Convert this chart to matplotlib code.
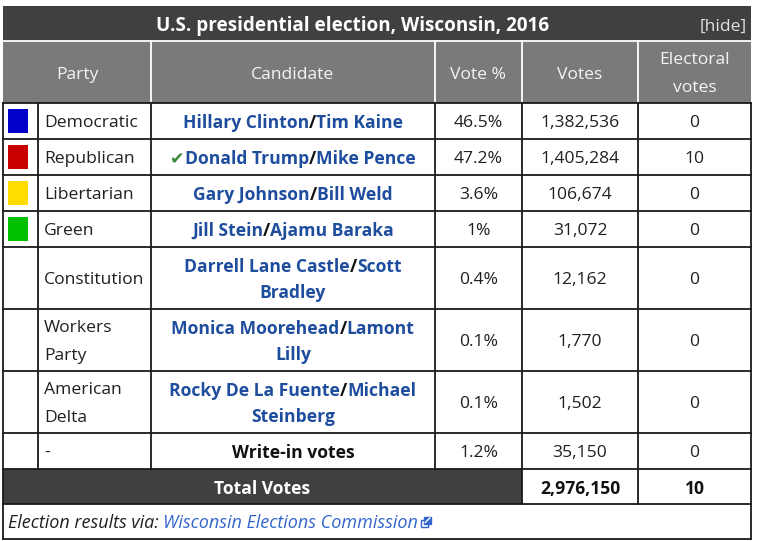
import matplotlib
matplotlib.use("Agg")
import matplotlib.pyplot as plt
from matplotlib.patches import Rectangle

# ---------------- data ----------------
title = "U.S. presidential election, Wisconsin, 2016"
headers = ["Party", "Candidate", "Vote %", "Votes", "Electoral\nvotes"]
parties = ["Democratic", "Republican", "Libertarian", "Green", "Constitution",
           "Workers Party", "American Delta", "-"]
party_colors = ["#0000c8", "#c80000", "#ffdd00", "#00c000", None, None, None, None]
presidents = ["Hillary Clinton", "Donald Trump", "Gary Johnson", "Jill Stein",
              "Darrell Lane Castle", "Monica Moorehead", "Rocky De La Fuente",
              "Write-in votes"]
running_mates = ["Tim Kaine", "Mike Pence", "Bill Weld", "Ajamu Baraka",
                 "Scott Bradley", "Lamont Lilly", "Michael Steinberg", None]
vote_pct = ["46.5%", "47.2%", "3.6%", "1%", "0.4%", "0.1%", "0.1%", "1.2%"]
votes = [1382536, 1405284, 106674, 31072, 12162, 1770, 1502, 35150]
electoral_votes = [0, 10, 0, 0, 0, 0, 0, 0]
winner = "Donald Trump"
total_label = "Total Votes"
total_votes = 2976150
total_electoral = 10
source_prefix = "Election results via: "
source_name = "Wisconsin Elections Commission"

# ---------------- layout ----------------
W, H = 757, 541
col_x = [3, 38, 151, 435, 522, 638, 751]
title_top, title_bot = 6, 41
head_bot = 103
row_heights = [36, 36, 36, 36, 62, 62, 62, 36]
total_h = 35
foot_h = 35
FS = 12.6
DY = 2.0  # baseline correction for vertical centering

DARK = "#404040"
HEAD = "#7a7a7a"
LINK = "#1e4d9e"
BORDER = "#1a1a1a"
TXT = "#202020"

plt.rcParams['font.family'] = ['Open Sans', 'DejaVu Sans']

fig = plt.figure(figsize=(W / 100, H / 100), dpi=100)
ax = fig.add_axes([0, 0, 1, 1])
ax.set_xlim(0, W)
ax.set_ylim(H, 0)
ax.axis('off')
renderer = fig.canvas.get_renderer()


def txt(x, y, s, **kw):
    opts = dict(fontsize=FS, color=TXT, ha='center', va='center')
    opts.update(kw)
    return ax.text(x, y + DY, s, **opts)


def segments(x, y, segs, ha='center'):
    texts, widths = [], []
    for s, color, props in segs:
        kw = dict(fontsize=FS)
        kw.update(props)
        t = ax.text(0, y + DY, s, color=color, va='center', ha='left', **kw)
        w = t.get_window_extent(renderer).width
        texts.append(t)
        widths.append(w)
    total = sum(widths)
    x0 = x - total / 2 if ha == 'center' else x
    for t, w in zip(texts, widths):
        t.set_x(x0)
        x0 += w
    return texts


def hline(y, x0, x1, color=BORDER, lw=1.3):
    ax.plot([x0, x1], [y, y], color=color, lw=lw, solid_capstyle='projecting')


def vline(x, y0, y1, color=BORDER, lw=1.3):
    ax.plot([x, x], [y0, y1], color=color, lw=lw, solid_capstyle='projecting')


# title bar
ax.add_patch(Rectangle((col_x[0], title_top), col_x[-1] - col_x[0], title_bot - title_top,
                       facecolor=DARK, edgecolor='none'))
txt(353, (title_top + title_bot) / 2 + 1, title, color='white', fontsize=13.6,
    fontweight='bold')
txt(col_x[-1] - 4, (title_top + title_bot) / 2 + 1, "[hide]", color='#e0e0e0', ha='right')

# header
ax.add_patch(Rectangle((col_x[0], title_bot), col_x[-1] - col_x[0], head_bot - title_bot,
                       facecolor=HEAD, edgecolor='none'))
hy = (title_bot + head_bot) / 2
head_centers = [(col_x[0] + col_x[2]) / 2] + [(col_x[i] + col_x[i + 1]) / 2 for i in range(2, 6)]
for hx, htxt in zip(head_centers, headers):
    lines = htxt.split("\n")
    if len(lines) == 1:
        txt(hx, hy + 1, htxt, color='#f4f4f4')
    else:
        txt(hx, hy - 13.5, lines[0], color='#f4f4f4')
        txt(hx, hy + 13.5, lines[1], color='#f4f4f4')
for x in col_x[2:-1]:
    vline(x, title_bot, head_bot, color='white', lw=1.3)
hline(title_bot, col_x[0], col_x[-1], color='white', lw=1.3)

# body rows
y = head_bot
row_bounds = []
for h in row_heights:
    row_bounds.append((y, y + h))
    y += h
body_bot = y

for i, (y0, y1) in enumerate(row_bounds):
    yc = (y0 + y1) / 2
    two = (y1 - y0) > 50
    # color square
    if party_colors[i]:
        ax.add_patch(Rectangle((8, y0 + 6), 20, 24, facecolor=party_colors[i], edgecolor='none'))
    # party text
    ptxt = parties[i]
    if two and ' ' in ptxt:
        a, b = ptxt.split(' ', 1)
        txt(44, yc - 13.5, a, ha='left')
        txt(44, yc + 13.5, b, ha='left')
    else:
        txt(44, yc, ptxt, ha='left')
    # candidate
    cx = (col_x[2] + col_x[3]) / 2
    bold = dict(fontweight='bold')
    if running_mates[i] is None:
        segments(cx, yc, [(presidents[i], '#111111', bold)])
    elif two:
        first, last = running_mates[i].rsplit(' ', 1)
        segments(cx, yc - 13.5, [(presidents[i], LINK, bold), ("/", '#111111', bold),
                                 (first, LINK, bold)])
        segments(cx, yc + 13.5, [(last, LINK, bold)])
    else:
        segs = []
        if presidents[i] == winner:
            segs.append(("\u2714", '#3a8a3a', dict(family=['DejaVu Sans'], fontsize=FS)))
        segs += [(presidents[i], LINK, bold), ("/", '#111111', bold),
                 (running_mates[i], LINK, bold)]
        segments(cx, yc, segs)
    # numbers
    txt((col_x[3] + col_x[4]) / 2, yc, vote_pct[i])
    txt((col_x[4] + col_x[5]) / 2, yc, f"{votes[i]:,}")
    txt((col_x[5] + col_x[6]) / 2, yc, str(electoral_votes[i]))

# body grid
for (y0, y1) in row_bounds:
    hline(y0, col_x[0], col_x[-1])
hline(body_bot, col_x[0], col_x[-1])
for x in col_x:
    vline(x, head_bot, body_bot)

# total row
t0, t1 = body_bot, body_bot + total_h
ax.add_patch(Rectangle((col_x[0], t0), col_x[4] - col_x[0], total_h, facecolor=DARK,
                       edgecolor='none'))
tyc = (t0 + t1) / 2
txt((col_x[0] + col_x[4]) / 2, tyc, total_label, color='white', fontweight='bold')
txt((col_x[4] + col_x[5]) / 2, tyc, f"{total_votes:,}", color='#111111', fontweight='bold')
txt((col_x[5] + col_x[6]) / 2, tyc, str(total_electoral), color='#111111', fontweight='bold')
hline(t1, col_x[0], col_x[-1])
for x in (col_x[0], col_x[4], col_x[5], col_x[6]):
    vline(x, t0, t1)

# footer
f0, f1 = t1, t1 + foot_h
fy = (f0 + f1) / 2
ftexts = segments(8, fy, [(source_prefix, TXT, dict(style='italic', fontsize=13.0)),
                          (source_name, '#3366cc', dict(style='italic', fontsize=13.0))],
                  ha='left')
bb = ftexts[-1].get_window_extent(renderer)
icon_x = bb.x1 + 3
iy = fy + 1
ax.add_patch(Rectangle((icon_x, iy - 3), 7, 7, facecolor='white', edgecolor='#3366cc', lw=1.0))
ax.add_patch(Rectangle((icon_x + 3, iy - 6), 7, 7, facecolor='#3366cc', edgecolor='#3366cc', lw=1.0))
ax.plot([icon_x + 4, icon_x + 8.5], [iy, iy - 4.5], color='white', lw=1.0)
hline(f1, col_x[0], col_x[-1])
vline(col_x[0], f0, f1)
vline(col_x[-1], f0, f1)

fig.savefig("out.png", dpi=100)
